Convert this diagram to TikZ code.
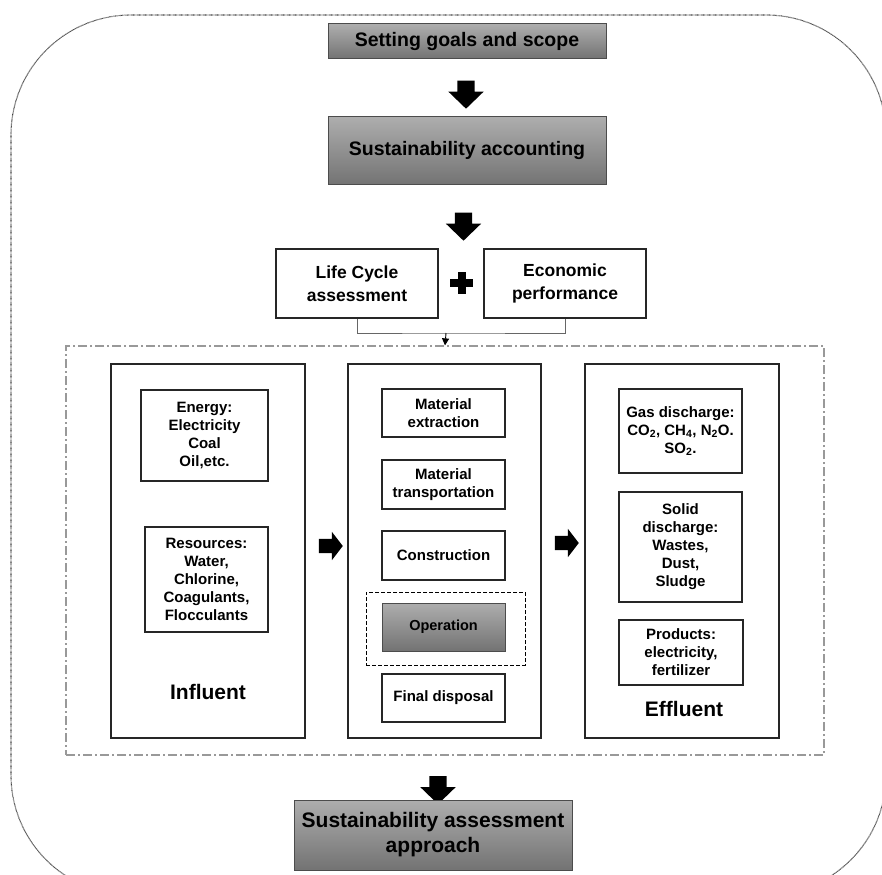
\documentclass[tikz,border=0pt]{standalone}
\usepackage{fontspec}
\setmainfont{Liberation Sans}
\usetikzlibrary{shapes.arrows,arrows.meta}
\begin{document}
\begin{tikzpicture}[x=1pt,y=-1pt,
 graybox/.style={draw=black!70, line width=1pt, top color=black!32, bottom color=black!55, inner sep=0pt, align=center},
 wbox/.style={draw=black!85, line width=1.4pt, fill=white, inner sep=0pt, align=center, font=\bfseries\fontsize{15}{18}\selectfont},
 bigbox/.style={draw=black!85, line width=1.4pt, inner sep=0pt},
 darr/.style={single arrow, fill=black, draw=none, shape border rotate=270, inner sep=8.5pt, single arrow head extend=9pt, single arrow tip angle=92, minimum height=28pt},
 rarr/.style={single arrow, fill=black, draw=none, inner sep=7pt, single arrow head extend=7pt, single arrow tip angle=105, minimum height=24pt},
 lbl/.style={inner sep=0pt, font=\bfseries\fontsize{21}{25}\selectfont}
]
\useasboundingbox (0,0) rectangle (882,874);
\clip (0,0) rectangle (882,874);
\fill[white] (0,0) rectangle (882,874);
% outer dotted rounded frame
\draw[black!75, line width=1.1pt, dash pattern=on 0.6pt off 0.6pt, rounded corners=120pt] (11,15) rectangle (886,895);

% top flow
\node[graybox, minimum width=278pt, minimum height=35pt, font=\bfseries\fontsize{19.5}{23}\selectfont] (goal) at (467,41.5) {Setting goals and scope};
\node[darr] (a1) at (466,90.5) {};
\node[graybox, minimum width=278pt, minimum height=68pt, font=\bfseries\fontsize{19.5}{23}\selectfont] (acc) at (467,151) {Sustainability accounting};
\node[darr] (a2) at (463.5,222.5) {};
\node[wbox, minimum width=162pt, minimum height=69pt, font=\bfseries\fontsize{17.5}{23}\selectfont] (lca) at (357,283.5) {Life Cycle\\assessment};
\node[wbox, minimum width=162pt, minimum height=69pt, font=\bfseries\fontsize{17.5}{23}\selectfont] (eco) at (565,283.5) {Economic\\performance};
\coordinate (plus) at (461.5,283);
\fill (plus) ++(-11.5,-4) rectangle ++(23,8);
\fill (plus) ++(-4,-10.5) rectangle ++(8,21);

% dash-dot container
\node[draw=black!40, line width=1.2pt, dash pattern=on 9pt off 3pt on 2pt off 3pt, minimum width=758pt, minimum height=409pt, inner sep=0pt] (dd) at (445,550.5) {};
\coordinate (j) at (446,333);
\draw[black!60, line width=0.9pt] (lca.south) |- (j) -| (eco.south);
\draw[black, line width=0.9pt, -{Triangle[length=7pt,width=7pt]}] (j) -- (dd.north);

% influent
\node[bigbox, minimum width=194pt, minimum height=374pt] (infl) at (208,551) {};
\node[wbox, minimum width=127pt, minimum height=91pt] (energy) at (204.5,435.5) {Energy:\\Electricity\\Coal\\Oil,etc.};
\node[wbox, minimum width=123pt, minimum height=105pt] (res) at (206.5,579.5) {Resources:\\Water,\\Chlorine,\\Coagulants,\\Flocculants};
\node[lbl] (inlbl) at (208,692) {Influent};
\node[rarr] (a3) at (328,546) {};

% middle
\node[bigbox, minimum width=193pt, minimum height=374pt] (mid) at (444.5,551) {};
\node[wbox, minimum width=123pt, minimum height=48pt] (mext) at (443.5,413) {Material\\extraction};
\node[wbox, minimum width=123pt, minimum height=49pt] (mtr) at (443.5,484.5) {Material\\transportation};
\node[wbox, minimum width=123pt, minimum height=49pt] (cons) at (443.5,555.5) {Construction};
\node[draw=black, line width=1pt, dash pattern=on 4pt off 2pt, minimum width=159pt, minimum height=73pt, inner sep=0pt] (opd) at (445.5,628.5) {};
\node[graybox, minimum width=123pt, minimum height=48pt, font=\bfseries\fontsize{14.5}{18}\selectfont] (op) at (443.5,627) {Operation};
\node[wbox, minimum width=123pt, minimum height=48pt] (fin) at (443.5,698) {Final disposal};
\node[rarr] (a4) at (564,543) {};

% effluent
\node[bigbox, minimum width=194pt, minimum height=374pt] (eff) at (682,551) {};
\node[wbox, minimum width=123pt, minimum height=84pt] (gas) at (680.5,431) {Gas discharge:\\CO\textsubscript{2}, CH\textsubscript{4}, N\textsubscript{2}O.\\SO\textsubscript{2}.};
\node[wbox, minimum width=123pt, minimum height=110pt] (solid) at (680.5,547) {Solid\\discharge:\\Wastes,\\Dust,\\Sludge};
\node[wbox, minimum width=124pt, minimum height=65pt] (prod) at (681,652.5) {Products:\\electricity,\\fertilizer};
\node[lbl] (eflbl) at (684,709) {Effluent};

% bottom
\node[darr] (a5) at (438,786) {};
\node[graybox, minimum width=278pt, minimum height=70pt, font=\bfseries\fontsize{21}{25}\selectfont] (final) at (433,835) {Sustainability assessment\\approach};
\end{tikzpicture}
\end{document}
